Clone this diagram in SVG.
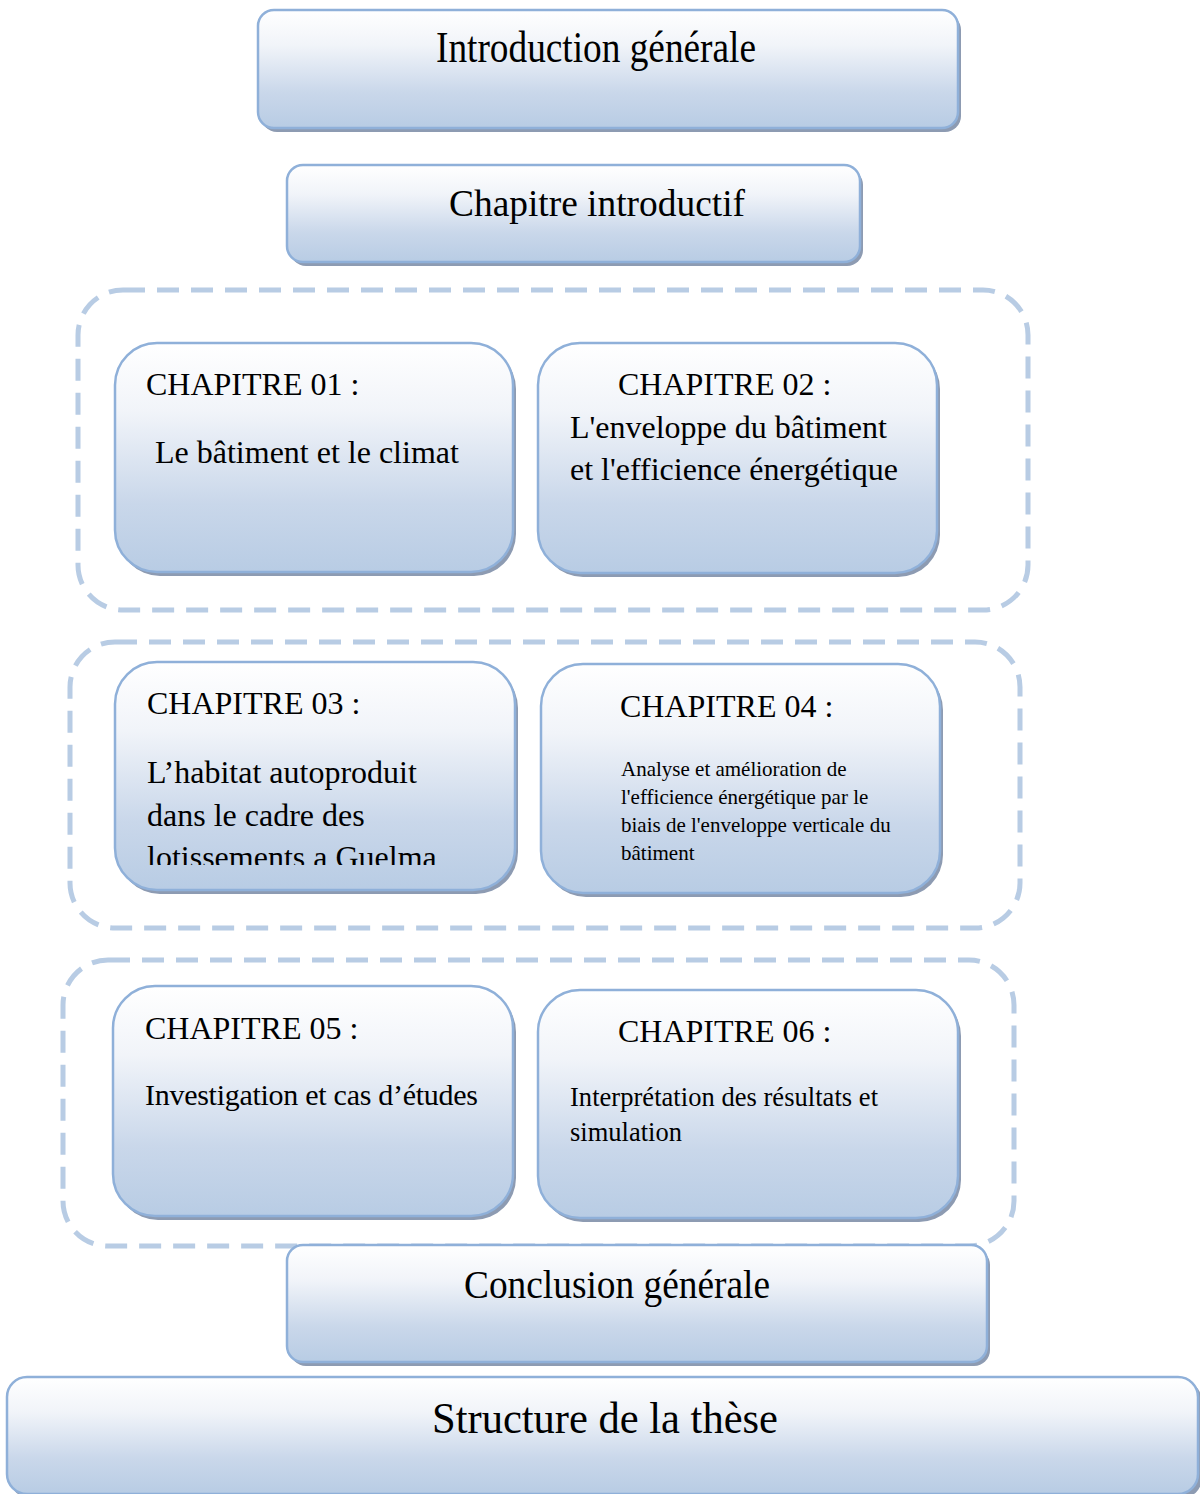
<svg xmlns="http://www.w3.org/2000/svg" width="1200" height="1494" viewBox="0 0 1200 1494">
<defs>
<linearGradient id="g" x1="0" y1="0" x2="0" y2="1">
<stop offset="0" stop-color="#ffffff"/>
<stop offset="0.3" stop-color="#f1f4f9"/>
<stop offset="0.7" stop-color="#c9d7ea"/>
<stop offset="1" stop-color="#b8cce4"/>
</linearGradient>
<clipPath id="c3"><rect x="117" y="664" width="396" height="201"/></clipPath>
<style>
.box{fill:url(#g);stroke:#8fb0d9;stroke-width:2.5}
.sh{fill:#8d9bb2}
.grp{fill:none;stroke:#b8cce4;stroke-width:5;stroke-dasharray:22 12}
text{font-family:"Liberation Serif","Times New Roman",serif;fill:#000}
.t32{font-size:32px}
.t21{font-size:21px}
</style>
</defs>
<g id="groups">
<rect id="grp1" class="grp" x="78" y="290" width="950" height="320" rx="45"/>
<rect id="grp2" class="grp" x="70" y="642" width="950" height="286" rx="45"/>
<rect id="grp3" class="grp" x="63" y="960" width="951" height="286" rx="45"/>
</g>
<g id="intro">
<rect class="sh" x="261" y="14" width="700" height="118" rx="16"/>
<rect class="box" x="258" y="10" width="700" height="118" rx="16"/>
<text x="596" y="62" text-anchor="middle" font-size="45" textLength="320" lengthAdjust="spacingAndGlyphs">Introduction générale</text>
</g>
<g id="chapintro">
<rect class="sh" x="290" y="169" width="573" height="97" rx="16"/>
<rect class="box" x="287" y="165" width="573" height="97" rx="16"/>
<text x="597" y="216" text-anchor="middle" font-size="38" textLength="296" lengthAdjust="spacingAndGlyphs">Chapitre introductif</text>
</g>
<g id="ch01">
<rect class="sh" x="118" y="347" width="398" height="229" rx="42"/>
<rect class="box" x="115" y="343" width="398" height="229" rx="42"/>
<text class="t32" x="146" y="395">CHAPITRE 01 :</text>
<text class="t32" x="155" y="463">Le bâtiment et le climat</text>
</g>
<g id="ch02">
<rect class="sh" x="541" y="347" width="399" height="230" rx="42"/>
<rect class="box" x="538" y="343" width="399" height="230" rx="42"/>
<text class="t32" x="618" y="395">CHAPITRE 02 :</text>
<text class="t32" x="570" y="438">L'enveloppe du bâtiment</text>
<text class="t32" x="570" y="480">et l'efficience énergétique</text>
</g>
<g id="ch03">
<rect class="sh" x="118" y="666" width="400" height="228" rx="42"/>
<rect class="box" x="115" y="662" width="400" height="228" rx="42"/>
<text class="t32" x="147" y="714">CHAPITRE 03 :</text>
<g clip-path="url(#c3)">
<text class="t32" x="147" y="783">L’habitat autoproduit</text>
<text class="t32" x="147" y="826">dans le cadre des</text>
<text class="t32" x="147" y="868">lotissements a Guelma</text>
</g>
</g>
<g id="ch04">
<rect class="sh" x="544" y="668" width="399" height="229" rx="42"/>
<rect class="box" x="541" y="664" width="399" height="229" rx="42"/>
<text class="t32" x="620" y="717">CHAPITRE 04 :</text>
<text class="t21" x="621" y="776">Analyse et amélioration de</text>
<text class="t21" x="621" y="804">l'efficience énergétique par le</text>
<text class="t21" x="621" y="832">biais de l'enveloppe verticale du</text>
<text class="t21" x="621" y="860">bâtiment</text>
</g>
<g id="ch05">
<rect class="sh" x="116" y="990" width="400" height="230" rx="42"/>
<rect class="box" x="113" y="986" width="400" height="230" rx="42"/>
<text class="t32" x="145" y="1039">CHAPITRE 05 :</text>
<text x="145" y="1105" font-size="30" textLength="333">Investigation et cas d’études</text>
</g>
<g id="ch06">
<rect class="sh" x="541" y="994" width="420" height="228" rx="42"/>
<rect class="box" x="538" y="990" width="420" height="228" rx="42"/>
<text class="t32" x="618" y="1042">CHAPITRE 06 :</text>
<text x="570" y="1106" font-size="26.5" textLength="308">Interprétation des résultats et</text>
<text x="570" y="1141" font-size="26.5">simulation</text>
</g>
<g id="conclusion">
<rect class="sh" x="290" y="1249" width="700" height="117" rx="16"/>
<rect class="box" x="287" y="1245" width="700" height="117" rx="16"/>
<text x="617" y="1298" text-anchor="middle" font-size="39" textLength="306" lengthAdjust="spacingAndGlyphs">Conclusion générale</text>
</g>
<g id="structure">
<rect class="sh" x="10" y="1381" width="1192" height="117" rx="20"/>
<rect class="box" x="7" y="1377" width="1191" height="117" rx="20"/>
<text x="605" y="1433" text-anchor="middle" font-size="44" textLength="346" lengthAdjust="spacingAndGlyphs">Structure de la thèse</text>
</g>
<g id="connectors"></g>
</svg>
